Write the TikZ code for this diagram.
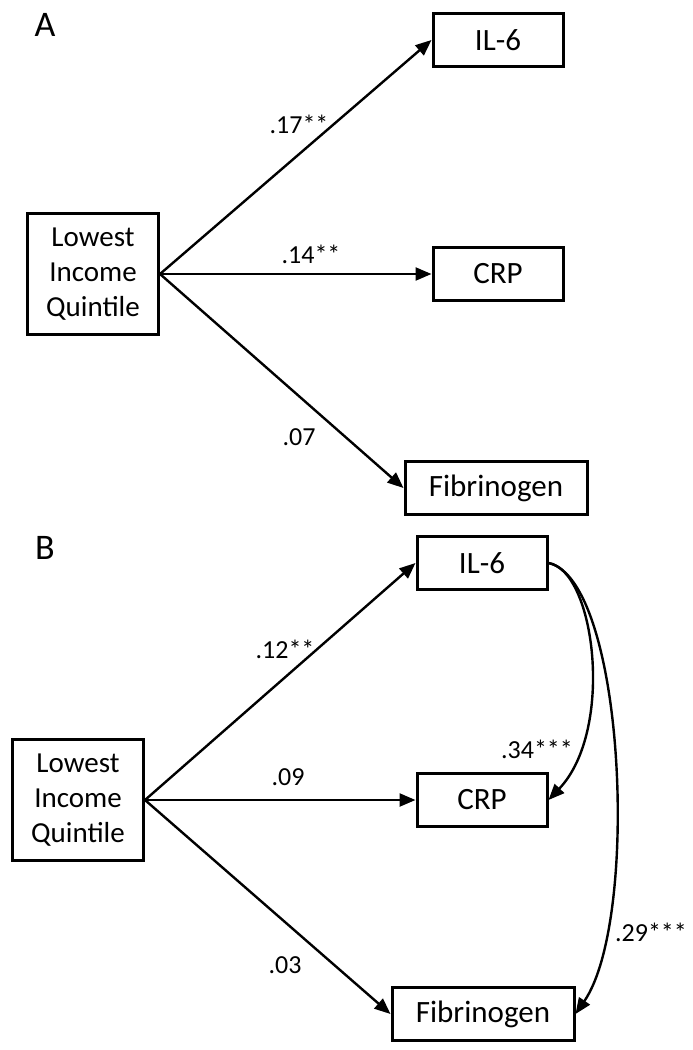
\documentclass[tikz,border=0pt]{standalone}
\usepackage{fontspec}
\setmainfont{Carlito}
\usetikzlibrary{arrows.meta}
\begin{document}
\begin{tikzpicture}[x=0.5pt,y=-0.5pt,
  box/.style={draw,line width=1.5pt,inner sep=0pt,minimum width=65pt,minimum height=26.5pt,font=\fontsize{15.5}{18}\selectfont},
  widebox/.style={box,minimum width=91pt},
  srcbox/.style={box,minimum width=65.5pt,minimum height=60.5pt,align=center,font=\fontsize{14.5}{17.5}\selectfont},
  lbl/.style={font=\fontsize{13}{15}\selectfont,inner sep=0pt},
  panel/.style={font=\fontsize{18}{20}\selectfont,inner sep=0pt},
  arr/.style={-{Triangle[length=8pt,width=6.5pt]},line width=1.2pt}]
\useasboundingbox (0,0) rectangle (692,1050);
% Panel A
\node[panel] (pA) at (45,25) {A};
\node[box] (ila) at (498,40) {IL-6};
\node[box] (crpa) at (498,274) {CRP};
\node[widebox] (fiba) at (496,488) {Fibrinogen};
\node[srcbox] (lowa) at (93,274) {Lowest\\Income\\Quintile};
\draw[arr] (lowa.east) -- (ila.west);
\draw[arr] (lowa.east) -- (crpa.west);
\draw[arr] (lowa.east) -- (fiba.west);
\node[lbl] (la1) at (299,124) {.17**};
\node[lbl] (la2) at (311,254) {.14**};
\node[lbl] (la3) at (299,437) {.07};
% Panel B
\node[panel] (pB) at (45,548) {B};
\node[box] (ilb) at (482,563) {IL-6};
\node[box] (crpb) at (482,800) {CRP};
\node[widebox] (fibb) at (483,1014) {Fibrinogen};
\node[srcbox] (lowb) at (78,800) {Lowest\\Income\\Quintile};
\draw[arr] (lowb.east) -- (ilb.west);
\draw[arr] (lowb.east) -- (crpb.west);
\draw[arr] (lowb.east) -- (fibb.west);
\coordinate (c1a) at (595,570);
\coordinate (c1b) at (615,730);
\coordinate (c2a) at (625,580);
\coordinate (c2b) at (640,920);
\draw[arr] (ilb.east) .. controls (c1a) and (c1b) .. (crpb.east);
\draw[arr] (ilb.east) .. controls (c2a) and (c2b) .. (fibb.east);
\node[lbl] (lb1) at (285,649) {.12**};
\node[lbl] (lb2) at (288,777) {.09};
\node[lbl] (lb3) at (285,965) {.03};
\node[lbl] (lb4) at (537,749) {.34***};
\node[lbl] (lb5) at (651,932) {.29***};
\end{tikzpicture}
\end{document}
